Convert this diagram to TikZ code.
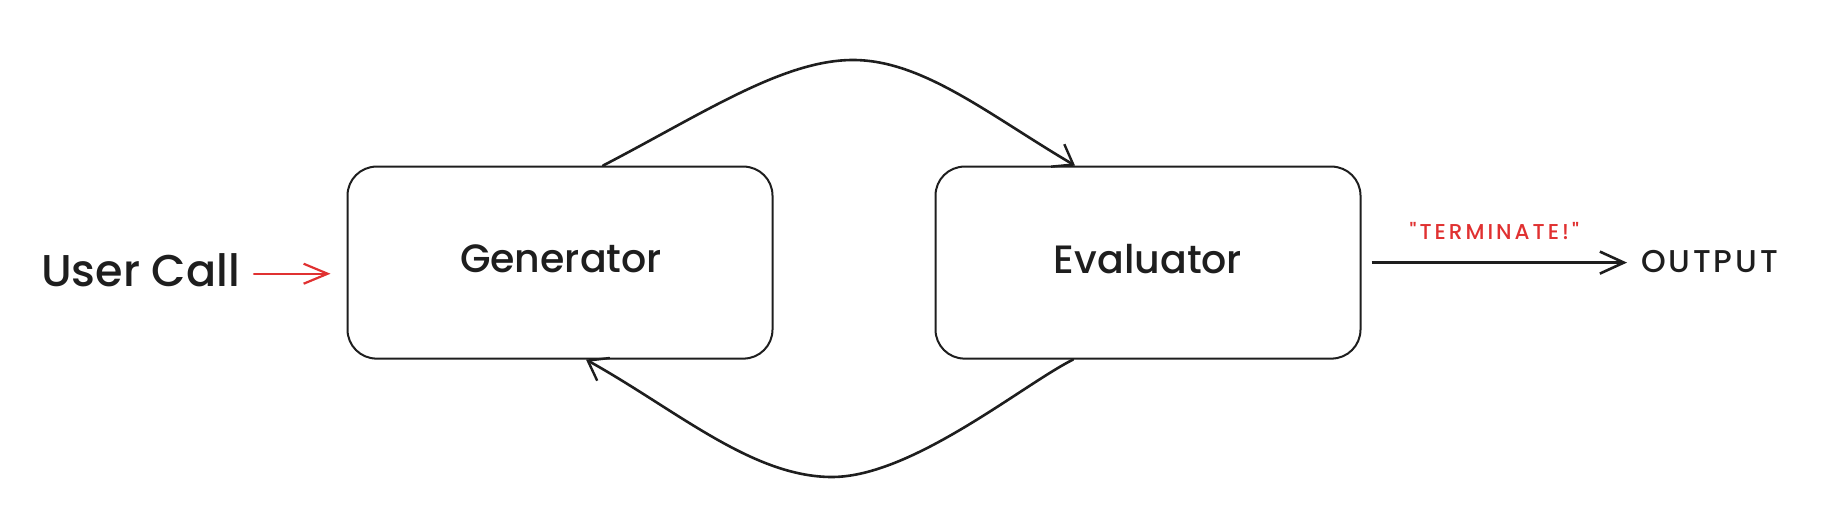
\documentclass[tikz,border=0pt]{standalone}
\usepackage{fontspec}
\setmainfont{Poppins}[UprightFont=* Medium]
\newfontfamily\termfont{Poppins}[UprightFont=* Medium, Ligatures=TeXOff, LetterSpace=14]
\newfontfamily\outfont{Poppins}[UprightFont=* Medium, LetterSpace=9]
\usetikzlibrary{arrows.meta,calc}
\definecolor{ink}{HTML}{1E1E1E}
\definecolor{redink}{HTML}{E03131}
\begin{document}
\begin{tikzpicture}[x=1pt,y=-1pt,
  box/.style={draw=ink, line width=2pt, rounded corners=29pt, minimum width=425pt, minimum height=192pt, inner sep=0pt},
  txt/.style={text=ink, inner sep=0pt, anchor=base},
  flow/.style={draw=ink, line width=2.6pt, line cap=round, -{Straight Barb[length=18pt,width=26pt,line width=2.4pt]}},
  redflow/.style={draw=redink, line width=2.3pt, line cap=round, -{Straight Barb[length=24pt,width=20pt,line width=2.2pt]}},
  outflow/.style={draw=ink, line width=3.4pt, -{Straight Barb[length=24pt,width=22pt,line width=2.6pt]}}
]
\path[use as bounding box] (0,0) rectangle (1838,518);

\node[box] (gen) at (560,262.6) {};
\node[box] (eva) at (1148,262.6) {};
\node[txt, font=\fontsize{39.5}{46}\selectfont] (genl) at (561,273) {Generator};
\node[txt, font=\fontsize{39.5}{46}\selectfont] (eval) at (1148,274) {Evaluator};
\node[txt, anchor=base west, font=\fontsize{44.5}{52}\selectfont] (user) at (41,287) {User Call};
\node[txt, anchor=base west, font=\outfont\fontsize{31.5}{38}\selectfont] (out) at (1641,273) {OUTPUT};

\draw[redflow] ([xshift=14pt,yshift=-3pt]user.east) -- ([xshift=-16pt,yshift=-3pt]user.east -| gen.west);

\draw[outflow] ([xshift=10pt]eva.east) -- ([xshift=-14pt]eva.east -| out.west)
  node[midway, anchor=base, xshift=-5pt, yshift=23pt, inner sep=0pt, text=redink, font=\termfont\fontsize{21.5}{26}\selectfont] (term) {"TERMINATE!"};

\draw[flow] ([xshift=43pt]gen.north) .. controls +(100,-52) and +(-70,0) .. (853,60)
  .. controls +(70,0) and +(-85,-50) .. ([xshift=-73pt]eva.north);
\draw[flow] ([xshift=-75pt]eva.south) .. controls +(-50,25) and +(80,0) .. (832,477)
  .. controls +(-80,0) and +(90,50) .. ([xshift=26pt]gen.south);
\end{tikzpicture}
\end{document}
